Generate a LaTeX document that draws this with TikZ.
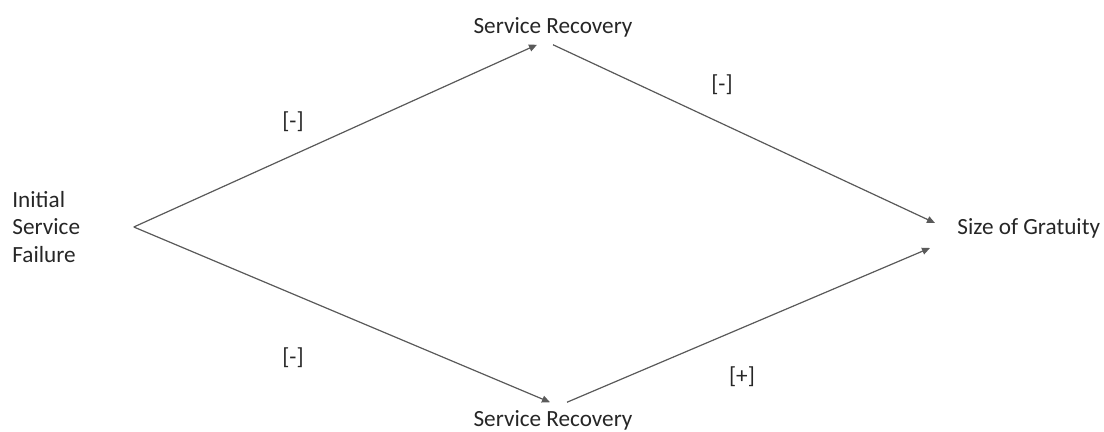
\documentclass[tikz,border=0pt]{standalone}
\usepackage{fontspec}
\setmainfont{Carlito}
\usepackage{xcolor}
\usepackage{tikz}
\usetikzlibrary{positioning,arrows.meta}
\definecolor{lineGray}{HTML}{5A5A5A}
\definecolor{textGray}{HTML}{262626}
\tikzset{
  lbl/.style={font=\fontsize{11.6}{13.6}\selectfont,text=textGray,inner xsep=0pt,inner ysep=3.75pt},
  sign/.style={font=\fontsize{11.6}{13.6}\selectfont,text=textGray,inner sep=0pt},
  arr/.style={-{Triangle[length=4pt,width=3.5pt]},draw=lineGray,fill=lineGray,line width=0.6pt},
  ln/.style={draw=lineGray,line width=0.6pt}
}
\begin{document}
\begin{tikzpicture}[x=0.5pt,y=-0.5pt]
\useasboundingbox (0,0) rectangle (1104,432);
\node[lbl, anchor=west, align=left, text width=60.5pt] (failure) at (12,227) {Initial\\Service\\Failure};
\node[lbl] (recTop) at (553,27) {Service Recovery};
\node[lbl] (recBot) at (553,420) {Service Recovery};
\node[lbl, anchor=west] (gratuity) at (957,228) {Size of Gratuity};
\draw[arr] (failure.east) -- ([xshift=-8pt]recTop.south);
\draw[arr] (failure.east) -- ([xshift=-1.5pt]recBot.north);
\draw[arr] (recTop.south) -- ([shift={(-11pt,2.5pt)}]gratuity.west);
\draw[arr] ([xshift=7pt]recBot.north) -- ([shift={(-13.5pt,-10pt)}]gratuity.west);
\node[sign] (s1) at (293,122) {[-]};
\node[sign] (s2) at (722,85) {[-]};
\node[sign] (s3) at (293,358) {[-]};
\node[sign] (s4) at (742,377) {[+]};
\end{tikzpicture}
\end{document}
